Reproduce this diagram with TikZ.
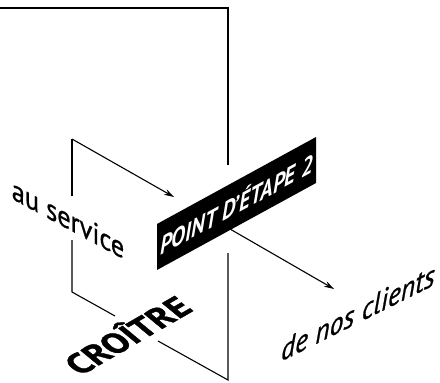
\documentclass[tikz,border=0pt]{standalone}
\usepackage{fontspec}
\usepackage{graphicx}
\setmainfont{PT Sans}
\newfontfamily\wallfont[FakeBold=0.9]{PT Sans}
\newfontfamily\floorfont[FakeBold=1.2]{PT Sans}
\usetikzlibrary{arrows.meta}

\tikzset{
  frame/.style={line width=1.1pt, line cap=butt, line join=miter},
  flow/.style={line width=1.1pt, -{Stealth[length=10pt,width=6pt]}},
  stagebox/.style={fill=black, text=white, inner sep=0pt,
    minimum width=159pt, minimum height=46pt, yslant=0.547, transform shape,
    font=\fontsize{25}{25}\selectfont\bfseries\itshape},
  wallword/.style={inner sep=0pt, transform shape,
    font=\wallfont\fontsize{30}{30}\selectfont},
  floorword/.style={inner sep=0pt, transform shape,
    cm={0.866,0.5,-0.75,0.62,(0,0)},
    font=\floorfont\fontsize{35}{35}\selectfont\bfseries}
}

\begin{document}
\begin{tikzpicture}[x=1pt,y=-1pt]
\useasboundingbox (0,0) rectangle (440,383);

% corner points of the two planes
\coordinate (topL) at (0,8);
\coordinate (topR) at (228,8);
\coordinate (frontUp) at (228,165);
\coordinate (frontLow) at (228,253);
\coordinate (frontBot) at (228,380);
\coordinate (backTop) at (72,139);
\coordinate (backUp) at (72,196);
\coordinate (backLow) at (72,240);
\coordinate (backBot) at (72,292);
\coordinate (floorA) at (115,316);
\coordinate (floorB) at (158,341);
\coordinate (inTip) at (174,197);
\coordinate (outStart) at (230,229);
\coordinate (outTip) at (334,289);

% stage label
\node[stagebox] (etape) at (236.5,203.5) {\scalebox{0.86}[1]{POINT D'ÉTAPE 2}};

% texts
\node[wallword, yslant=-0.54, anchor=base] (service) at (68,229) {\scalebox{0.88}[1]{au service}};
\node[wallword, yslant=0.5, anchor=base, font=\wallfont\fontsize{30}{30}\selectfont\itshape] (clients) at (358,323) {\scalebox{0.92}[1]{de nos clients}};
\node[floorword] (croitre) at (126,334) {CROÎTRE};

% outline of the large front plane
\draw[frame] (topL) -- (topR) -- (frontUp);
\draw[frame] (frontLow) -- (frontBot) -- (floorB);
% back plane
\draw[frame] (backUp) -- (backTop);
\draw[frame] (backLow) -- (backBot) -- (floorA);

% arrows through the stage
\draw[flow] (backTop) -- (inTip);
\draw[flow] (outStart) -- (outTip);
\end{tikzpicture}
\end{document}
